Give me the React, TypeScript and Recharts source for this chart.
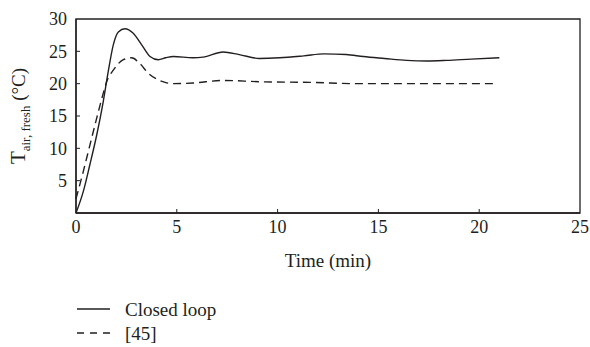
import { Line, LineChart, ReferenceArea, XAxis, YAxis, Label } from "recharts"

const closedLoopTime = [0, 0.36, 0.69, 1.03, 1.35, 1.6, 1.85, 2.1, 2.43, 2.84, 3.26, 3.67, 4.08, 4.45, 4.83, 5.8, 6.3, 7.3, 8.1, 9.1, 10.1, 11.3, 12.3, 13.4, 14.25, 15.3, 16.4, 17.4, 18.4, 19.6, 21.0]
const closedLoopTemp = [0, 3.3, 7.5, 12.1, 17.2, 21.9, 26.0, 28.0, 28.5, 27.8, 26.0, 24.2, 23.7, 24.0, 24.2, 24.0, 24.1, 24.9, 24.5, 23.9, 24.0, 24.3, 24.6, 24.5, 24.2, 23.9, 23.6, 23.5, 23.6, 23.8, 24.0]

const refTime = [0, 0.36, 0.69, 1.03, 1.35, 1.52, 1.85, 2.35, 2.76, 3.17, 3.59, 4.08, 4.42, 4.83, 5.8, 7.3, 9.1, 11.6, 14.0, 17.0, 20.8]
const refTemp = [2.2, 6.4, 10.5, 14.7, 18.5, 20.3, 22.1, 23.7, 24.0, 23.1, 21.6, 20.6, 20.2, 20.0, 20.1, 20.5, 20.3, 20.2, 20.0, 20.0, 20.0]

const xTicks = [0, 5, 10, 15, 20, 25]
const yTicks = [5, 10, 15, 20, 25, 30]

const closedLoopData = closedLoopTime.map((t, i) => ({ t, v: closedLoopTemp[i] }))
const refData = refTime.map((t, i) => ({ t, v: refTemp[i] }))

const FONT = "'Liberation Serif', 'DejaVu Serif', serif"
const INK = "#231f20"

function XTick({ x, y, payload }: any) {
  return (
    <g>
      {payload.value > 0 && payload.value < 25 && <line x1={x} x2={x} y1={y} y2={y - 4} stroke={INK} strokeWidth={1} />}
      <text x={x} y={y + 20} textAnchor="middle" fontFamily={FONT} fontSize={18} fill={INK}>
        {payload.value}
      </text>
    </g>
  )
}

function YTick({ x, y, payload }: any) {
  return (
    <g>
      {payload.value < 30 && <line x1={x} x2={x + 4} y1={y} y2={y} stroke={INK} strokeWidth={1} />}
      <text x={x - 9} y={y} dy="0.35em" textAnchor="end" fontFamily={FONT} fontSize={18} fill={INK}>
        {payload.value}
      </text>
    </g>
  )
}

function YLabel() {
  return (
    <text transform="rotate(-90, 25, 116)" x={25} y={116} textAnchor="middle" fontFamily={FONT} fill={INK}>
      <tspan fontSize={21}>T</tspan>
      <tspan fontSize={13} dy={5}>air, fresh</tspan>
      <tspan fontSize={19} dy={-5}> (°C)</tspan>
    </text>
  )
}

export default function App() {
  return (
    <div style={{ position: "absolute", left: 0, top: 0, width: 590, height: 347, background: "#fff" }}>
      <LineChart width={590} height={347} margin={{ top: 19, right: 10, left: 0, bottom: 94 }}>
        <XAxis
          dataKey="t"
          type="number"
          domain={[0, 25]}
          ticks={xTicks}
          tick={<XTick />}
          tickLine={false}
          tickSize={0}
          tickMargin={0}
          height={40}
          axisLine={{ stroke: INK, strokeWidth: 1.3 }}
          allowDuplicatedCategory={false}
        >
          <Label value="Time (min)" position="insideBottom" offset={-14} fontFamily={FONT} fontSize={19} fill={INK} />
        </XAxis>
        <YAxis
          type="number"
          domain={[0, 30]}
          ticks={yTicks}
          tick={<YTick />}
          tickLine={false}
          tickSize={0}
          tickMargin={0}
          width={76}
          axisLine={{ stroke: INK, strokeWidth: 1.3 }}
        >
          <Label content={<YLabel />} />
        </YAxis>
        <ReferenceArea x1={0} x2={25} y1={0} y2={30} fill="none" stroke={INK} strokeWidth={1.3} fillOpacity={0} />
        <Line data={closedLoopData} dataKey="v" type="monotone" stroke={INK} strokeWidth={1.4} dot={false} isAnimationActive={false} name="Closed loop" />
        <Line data={refData} dataKey="v" type="monotone" stroke={INK} strokeWidth={1.4} strokeDasharray="8 5" dot={false} isAnimationActive={false} name="[45]" />
      </LineChart>
      <div style={{ position: "absolute", left: 77, top: 298, fontFamily: FONT, fontSize: 19, color: INK, lineHeight: "24px" }}>
        <div style={{ display: "flex", alignItems: "center" }}>
          <svg width={34} height={24}>
            <line x1={0} x2={33} y1={11} y2={11} stroke={INK} strokeWidth={1.4} />
          </svg>
          <span style={{ marginLeft: 14 }}>Closed loop</span>
        </div>
        <div style={{ display: "flex", alignItems: "center" }}>
          <svg width={34} height={24}>
            <line x1={0} x2={33} y1={11} y2={11} stroke={INK} strokeWidth={1.4} strokeDasharray="7 6" />
          </svg>
          <span style={{ marginLeft: 14 }}>[45]</span>
        </div>
      </div>
    </div>
  )
}
